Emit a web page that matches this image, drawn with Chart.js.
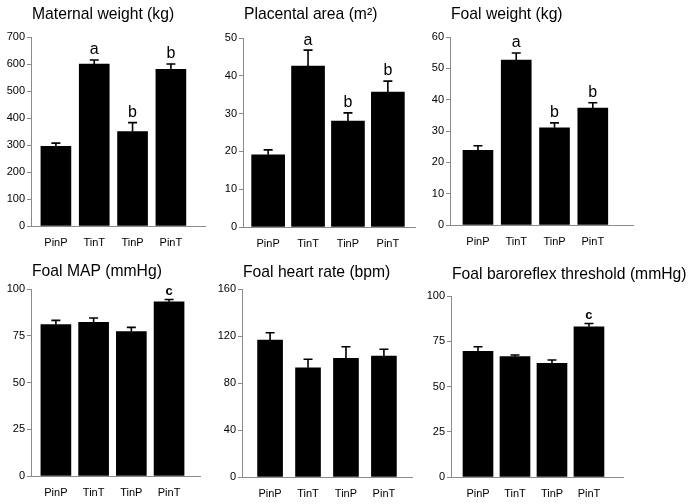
<!DOCTYPE html>
<html>
<head>
<meta charset="utf-8">
<script src="https://cdn.jsdelivr.net/npm/chart.js@4.4.1/dist/chart.umd.min.js"></script>
<style>
  body { margin: 0; background: #fff; }
  #wrap { position: relative; width: 691px; height: 504px; }
  #wrap canvas { position: absolute; left: 0; top: 0; }
</style>
</head>
<body>
<div id="wrap"></div>
<script>
// groups on the x axis
const categories = ['PinP', 'TinT', 'TinP', 'PinT'];

const titles = [
  'Maternal weight (kg)', 'Placental area (m\u00b2)', 'Foal weight (kg)',
  'Foal MAP (mmHg)', 'Foal heart rate (bpm)', 'Foal baroreflex threshold (mmHg)'
];

// bar heights and the upper error (SEM)
const maternalWeight = [295, 600, 350, 580];
const maternalWeightErr = [12, 15, 33, 20];
const placentalArea = [19.1, 42.6, 28.0, 35.7];
const placentalAreaErr = [1.3, 4.2, 2.2, 2.9];
const foalWeight = [23.8, 52.6, 31.0, 37.3];
const foalWeightErr = [1.5, 2.3, 1.6, 1.7];
const foalMAP = [81.0, 82.2, 77.2, 93.2];
const foalMAPErr = [2.2, 2.3, 2.3, 1.2];
const foalHR = [116.6, 93.0, 101.0, 103.0];
const foalHRErr = [6.2, 7.2, 9.9, 5.7];
const foalThreshold = [69.4, 66.5, 62.8, 83.0];
const foalThresholdErr = [2.6, 0.9, 1.8, 1.8];

// significance letters above the bars
const lettersAB = ['', 'a', 'b', 'b'];
const lettersC = ['', '', '', 'c'];
const lettersNone = ['', '', '', ''];

// y axis tick ranges
const yMax = [700, 50, 60, 100, 160, 100];
const yStep = [100, 10, 10, 25, 40, 25];

const values = [maternalWeight, placentalArea, foalWeight, foalMAP, foalHR, foalThreshold];
const errors = [maternalWeightErr, placentalAreaErr, foalWeightErr, foalMAPErr, foalHRErr, foalThresholdErr];
const letters = [lettersAB, lettersAB, lettersAB, lettersC, lettersNone, lettersC];

// where each panel sits on the page: axis left/right, plot top/bottom (px)
const panels = [
  { left: 31,  right: 205, top: 37,  bottom: 226, xmin: -0.65, xmax: 3.89, bar: 30, titleY: 15 },
  { left: 243, right: 415, top: 38,  bottom: 227, xmin: -0.63, xmax: 3.68, bar: 33, titleY: 15 },
  { left: 450, right: 633, top: 37,  bottom: 225, xmin: -0.73, xmax: 4.05, bar: 30, titleY: 15 },
  { left: 31,  right: 200, top: 289, bottom: 476, xmin: -0.66, xmax: 3.82, bar: 30, titleY: 272 },
  { left: 242, right: 412, top: 289, bottom: 477, xmin: -0.74, xmax: 3.74, bar: 25, titleY: 273 },
  { left: 451, right: 623, top: 296, bottom: 477, xmin: -0.73, xmax: 3.92, bar: 30, titleY: 275 }
];

const FONT = "'Liberation Sans', Arial, Helvetica, sans-serif";
const AXIS = '#8a8a8a';
const Y_W = 30, X_H = 25;

// panel heading, error bars and letters
const panelMarks = {
  id: 'panelMarks',
  afterDatasetsDraw(chart, args, opts) {
    const ctx = chart.ctx;
    const meta = chart.getDatasetMeta(0);
    const ys = chart.scales.y;
    ctx.save();
    ctx.fillStyle = '#000';
    ctx.font = '15.7px ' + FONT;
    ctx.textAlign = 'left';
    ctx.textBaseline = 'middle';
    ctx.fillText(opts.title, chart.chartArea.left + 1, opts.titleY);

    ctx.strokeStyle = '#000';
    ctx.lineWidth = 1.6;
    ctx.textAlign = 'center';
    ctx.textBaseline = 'bottom';
    meta.data.forEach((bar, i) => {
      const v = opts.values[i];
      const yTop = ys.getPixelForValue(v + opts.errors[i]);
      const yBar = ys.getPixelForValue(v);
      ctx.beginPath();
      ctx.moveTo(bar.x, yBar);
      ctx.lineTo(bar.x, yTop);
      ctx.moveTo(bar.x - 4.5, yTop);
      ctx.lineTo(bar.x + 4.5, yTop);
      ctx.stroke();
      const t = opts.letters[i];
      if (t) {
        ctx.font = t === 'c' ? 'bold 13px ' + FONT : '16px ' + FONT;
        ctx.fillText(t, bar.x, yTop - 2);
      }
    });
    ctx.restore();
  }
};

const wrap = document.getElementById('wrap');

panels.forEach((p, k) => {
  const canvas = document.createElement('canvas');
  canvas.width = 691;
  canvas.height = 504;
  wrap.appendChild(canvas);

  new Chart(canvas.getContext('2d'), {
    type: 'bar',
    data: {
      datasets: [{
        data: values[k].map((v, i) => ({ x: i, y: v })),
        backgroundColor: '#000',
        borderWidth: 0,
        barThickness: p.bar
      }]
    },
    options: {
      responsive: false,
      animation: false,
      layout: {
        padding: {
          left: p.left - Y_W,
          right: 691 - p.right,
          top: p.top,
          bottom: 504 - p.bottom - X_H
        }
      },
      plugins: {
        legend: { display: false },
        tooltip: { enabled: false },
        title: { display: false },
        panelMarks: {
          title: titles[k], titleY: p.titleY,
          values: values[k], errors: errors[k], letters: letters[k]
        }
      },
      scales: {
        x: {
          type: 'linear',
          offset: false,
          min: p.xmin,
          max: p.xmax,
          afterBuildTicks: s => { s.ticks = categories.map((c, i) => ({ value: i })); },
          afterFit: s => { s.height = X_H; },
          grid: { display: false, offset: false },
          border: { display: true, color: AXIS, width: 1 },
          ticks: {
            color: '#000',
            padding: 2,
            font: { family: FONT, size: 11 },
            maxRotation: 0,
            autoSkip: false,
            callback: v => categories[v]
          }
        },
        y: {
          min: 0,
          max: yMax[k],
          afterFit: s => { s.width = Y_W; },
          grid: { drawOnChartArea: false, drawTicks: true, tickLength: 4, color: AXIS },
          border: { display: true, color: AXIS, width: 1 },
          ticks: {
            stepSize: yStep[k],
            color: '#000',
            padding: 2,
            font: { family: FONT, size: 11 }
          }
        }
      }
    },
    plugins: [panelMarks]
  });
});
</script>
</body>
</html>
